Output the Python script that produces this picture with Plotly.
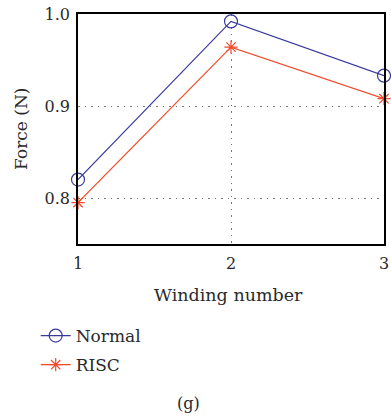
import plotly.graph_objects as go

winding = [1, 2, 3]
normal = [0.820, 0.992, 0.933]
risc = [0.795, 0.964, 0.908]
y_ticks = [0.8, 0.9, 1.0]
y_tick_labels = ["0.8", "0.9", "1.0"]

font_family = "'DejaVu Serif', serif"
text_color = "#2a2a2a"

fig = go.Figure()
fig.add_trace(go.Scatter(
    x=winding, y=normal, name="Normal", mode="lines+markers", legendgroup="a",
    line=dict(color="#3a3a9e", width=1.2),
    marker=dict(symbol="circle-open", size=13, color="#3a3a9e", line=dict(width=1.2)),
    cliponaxis=False,
))
fig.add_trace(go.Scatter(
    x=winding, y=risc, name="RISC", mode="lines+markers", legendgroup="b",
    line=dict(color="#f04a2a", width=1.2),
    marker=dict(symbol="asterisk-open", size=11, color="#f04a2a", line=dict(width=1.2, color="#f04a2a")),
    cliponaxis=False,
))

plot_left, plot_w = 78, 311
plot_top, plot_h = 14, 230


def px_to_paper(xp, yp):
    return (xp - plot_left) / plot_w, -(yp - (plot_top + plot_h)) / plot_h


ann_specs = [
    ("Winding number", 231, 295, 0, 17.5),
    ("Force (N)", 20, 129, -90, 17),
    ("(g)", 190, 403, 0, 16),
]
anns = []
for text, xp, yp, ang, size in ann_specs:
    xx, yy = px_to_paper(xp, yp)
    anns.append(dict(text=text, x=xx, y=yy, xref="paper", yref="paper",
                     xanchor="center", yanchor="middle", showarrow=False,
                     textangle=ang, font=dict(size=size)))

lx, ly = px_to_paper(35, 318)

fig.update_layout(
    width=391, height=417,
    margin=dict(l=78, r=2, t=14, b=173),
    paper_bgcolor="white", plot_bgcolor="white",
    font=dict(family=font_family, size=16, color=text_color),
    showlegend=True,
    legend=dict(
        x=lx, y=ly, xanchor="left", yanchor="top",
        bgcolor="rgba(0,0,0,0)", font=dict(size=17, color=text_color),
        itemwidth=30, tracegroupgap=4,
    ),
    xaxis=dict(
        range=[1, 3], tickvals=winding, ticktext=[str(v) for v in winding],
        showline=True, linecolor="black", linewidth=1.5, mirror=True,
        showgrid=True, gridcolor="#777777", griddash="1.5px,5px", gridwidth=1,
        zeroline=False, ticks="", tickfont=dict(size=16),
        ticklabeloverflow="allow", ticklabelstandoff=4,
    ),
    yaxis=dict(
        range=[0.75, 1.0], tickvals=y_ticks, ticktext=y_tick_labels,
        showline=True, linecolor="black", linewidth=1.5, mirror=True,
        showgrid=True, gridcolor="#777777", griddash="1.5px,5px", gridwidth=1,
        zeroline=False, ticks="", tickfont=dict(size=16),
        ticklabelstandoff=3,
    ),
    annotations=anns,
)

fig.write_html("out.html")
